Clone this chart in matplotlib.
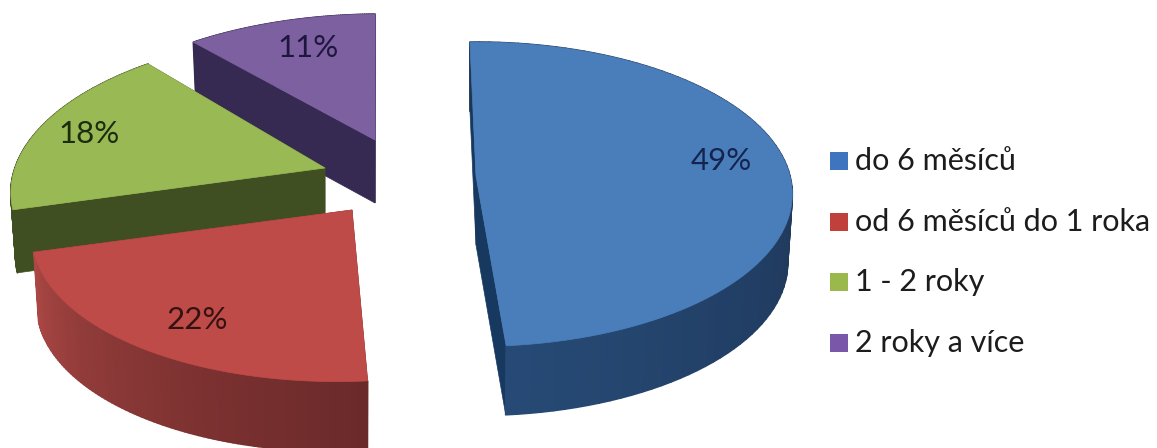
import numpy as np
import matplotlib
matplotlib.use("Agg")
import matplotlib.pyplot as plt
from matplotlib.collections import PolyCollection
from matplotlib.colors import LinearSegmentedColormap
from matplotlib.patches import Polygon, Rectangle

categories = ["do 6 měsíců", "od 6 měsíců do 1 roka", "1 - 2 roky", "2 roky a více"]
shares = [49, 22, 18, 11]
share_labels = ["49%", "22%", "18%", "11%"]

top_colors = ["#4a7ebb", "#be4b48", "#98b954", "#7d60a0"]
legend_colors = ["#3f75bf", "#c0403c", "#9ab84c", "#7a57a8"]
label_colors = ["#14244f", "#351212", "#1c2c0e", "#1f163f"]
rim_ramps = [
    ["#1e3655", "#1e3655", "#1f3858", "#223f66", "#264a75"],
    ["#6b2a2a", "#7b3130", "#8f3b39", "#ab4744"],
    ["#3f4f22", "#3f4f22"],
    ["#362a52", "#362a52"],
]
face_colors = ["#17395f", "#6b2a2a", "#3f4f22", "#362a52"]

# Exploded-slice placement in pixels: apex x, apex y, radius x, radius y, thickness, shear
placement = [
    (476, 176, 314, 150, 69, 0),
    (352, 210, 316, 151, 70, 13),
    (325, 168, 310, 150, 63, 13),
    (375, 140, 311, 141, 63, 7),
]
label_xy = [(721, 161), (197, 320), (89, 134), (308, 48)]
first_angle = -1.25
perspective = 0.12
base_narrowing = 0.985

fig = plt.figure(figsize=(11.57, 4.48), dpi=100)
ax = fig.add_axes([0, 0, 1, 1])
ax.set_xlim(0, 1157)
ax.set_ylim(448, 0)
ax.axis("off")
font = "Lato"


def project(theta_deg, place):
    ax0, ay0, rx, ry, _, shear = place
    t = np.radians(theta_deg)
    s, c = np.sin(t), np.cos(t)
    w = 1 + perspective * c
    return np.column_stack([ax0 + (rx * s + shear * c) / w, ay0 - ry * c / w])


def lower(points, place):
    # The underside sits a little further away, so it is slightly narrower
    out = np.array(points, dtype=float)
    out[..., 0] = place[0] + (out[..., 0] - place[0]) * base_narrowing
    out[..., 1] = out[..., 1] + place[4]
    return out


def draw_slice(index, start, sweep):
    place = placement[index]
    apex = np.array(place[:2], dtype=float)
    thetas = np.linspace(start, start + sweep, 90)
    arc = project(thetas, place)
    under = lower(arc, place)
    apex_under = lower(apex, place)

    # Inner cut faces first, so the rim and top cover whatever is hidden
    for corner, corner_under in ((arc[0], under[0]), (arc[-1], under[-1])):
        quad = [apex, corner, corner_under, apex_under]
        ax.add_patch(Polygon(quad, closed=True, facecolor=face_colors[index],
                             edgecolor=face_colors[index], lw=0.5, zorder=10 + index * -2))

    # Rim shaded strip by strip along the arc
    cmap = LinearSegmentedColormap.from_list("rim", rim_ramps[index])
    quads = [[arc[i], arc[i + 1], under[i + 1], under[i]] for i in range(len(arc) - 1)]
    shades = cmap(np.linspace(0, 1, len(quads)))
    ax.add_collection(PolyCollection(quads, facecolors=shades, edgecolors=shades,
                                     linewidths=1.2, zorder=10.5 + index * -2))

    top = np.vstack([apex, arc])
    ax.add_patch(Polygon(top, closed=True, facecolor=top_colors[index],
                         edgecolor=top_colors[index], lw=0.5, zorder=11 + index * -2))


# Back slices are painted before the ones in front of them
angles = np.cumsum([0] + [v * 3.6 for v in shares]) + first_angle
for i, value in enumerate(shares):
    draw_slice(i, angles[i], value * 3.6)

for (x, y), text, color in zip(label_xy, share_labels, label_colors):
    ax.text(x, y, text, fontsize=22.5, family=font, color=color,
            ha="center", va="center", zorder=30)

legend_y = [161, 222, 282, 343]
for y, name, color in zip(legend_y, categories, legend_colors):
    ax.add_patch(Rectangle((830, y - 9), 17.5, 18, facecolor=color, edgecolor="none", zorder=30))
    ax.text(855, y, name, fontsize=22, family=font, color="#1c1c1c",
            ha="left", va="center", zorder=30)

fig.savefig("out.png", dpi=100, facecolor="white")
